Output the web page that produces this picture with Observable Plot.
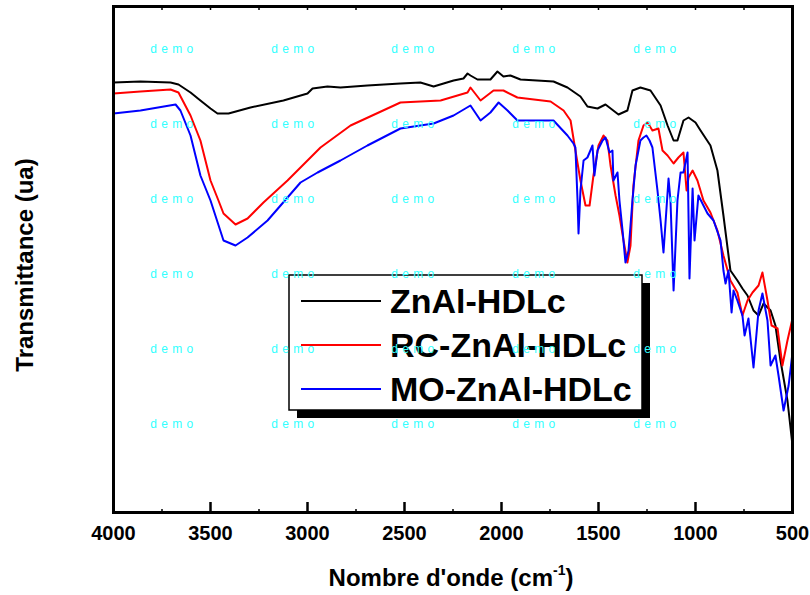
<!DOCTYPE html>
<html><head><meta charset="utf-8">
<script src="https://cdn.jsdelivr.net/npm/d3@7"></script>
<script src="https://cdn.jsdelivr.net/npm/@observablehq/plot@0.6"></script>
<style>
body{margin:0;background:#fff}
svg{font-family:"Liberation Sans",Arial,Helvetica,sans-serif}
</style>
</head><body><div id="chart"></div>
<script>
// ---- data (wavenumber cm-1, transmittance a.u.) ----
const seriesNames = ["ZnAl-HDLc", "RC-ZnAl-HDLc", "MO-ZnAl-HDLc"];
const seriesColors = ["#000000", "#ff0000", "#0000ff"];
const xTicks = [4000, 3500, 3000, 2500, 2000, 1500, 1000, 500];
const xLabel = "Nombre d'onde (cm";
const yLabel = "Transmittance (ua)";

const znalHDLc = [
 [4000,430],[3861,431],[3706,430],[3665,428],[3603,420],[3552,412],[3500,404],[3464,399],[3407,399],
 [3294,405],[3124,412],[3000,419],[2974,424],[2897,426],[2830,425],[2691,427],[2521,429],[2418,430],
 [2350,426],[2247,432],[2196,434],[2175,439],[2160,437],[2124,433],[2057,433],[2021,441],[1990,436],
 [1954,437],[1902,433],[1732,431],[1660,425],[1593,416],[1557,406],[1505,404],[1464,408],[1397,398],
 [1351,402],[1325,422],[1284,425],[1232,422],[1180,407],[1144,387],[1113,372],[1093,372],[1062,392],
 [1036,395],[1000,390],[974,382],[923,367],[887,342],[856,297],[820,242],[784,232],[758,224],[732,217],
 [701,202],[675,197],[649,209],[613,202],[588,187],[562,152],[526,112],[500,67]
];
const rcZnalHDLc = [
 [4000,419],[3861,421],[3706,423],[3665,420],[3603,397],[3552,372],[3500,332],[3459,312],[3433,299],
 [3371,288],[3309,294],[3227,310],[3103,332],[2933,365],[2778,387],[2521,410],[2314,412],[2175,420],
 [2160,425],[2108,412],[2041,422],[1990,422],[1918,415],[1747,411],[1680,402],[1644,392],[1619,362],
 [1593,332],[1567,307],[1546,307],[1526,337],[1500,367],[1474,377],[1454,372],[1438,347],[1412,317],
 [1392,297],[1371,272],[1351,250],[1335,267],[1320,327],[1294,372],[1268,387],[1247,390],[1222,382],
 [1191,384],[1170,362],[1144,357],[1113,349],[1088,355],[1062,360],[1046,322],[1036,335],[1015,342],
 [990,332],[959,312],[923,300],[887,282],[856,257],[820,232],[784,220],[758,197],[732,212],[706,220],
 [675,227],[655,240],[629,212],[608,187],[577,184],[552,147],[526,172],[500,194]
];
const moZnalHDLc = [
 [4000,399],[3861,402],[3680,408],[3655,402],[3603,377],[3552,337],[3500,312],[3433,272],[3371,267],
 [3309,275],[3206,292],[3103,315],[3036,330],[2948,340],[2830,352],[2691,367],[2521,384],[2350,389],
 [2247,397],[2160,407],[2108,392],[2057,400],[2015,410],[1969,402],[1918,392],[1732,392],[1660,377],
 [1629,369],[1619,365],[1608,312],[1603,279],[1593,322],[1577,352],[1557,355],[1531,367],[1521,337],
 [1505,362],[1479,372],[1464,375],[1443,360],[1428,362],[1423,332],[1402,340],[1392,312],[1376,282],
 [1361,250],[1345,262],[1325,312],[1309,347],[1284,372],[1268,375],[1253,377],[1237,372],[1222,365],
 [1196,322],[1180,292],[1165,260],[1139,334],[1129,312],[1113,222],[1093,312],[1077,340],[1062,340],
 [1041,360],[1031,234],[1015,324],[1005,272],[985,317],[959,307],[938,299],[907,292],[871,272],
 [856,242],[845,229],[830,242],[814,200],[804,222],[784,212],[758,197],[747,177],[727,194],[701,145],
 [675,202],[655,219],[629,192],[613,147],[588,157],[572,137],[546,102],[520,127],[500,160]
];

const allSeries = [znalHDLc, rcZnalHDLc, moZnalHDLc];
const data = allSeries.flatMap((s, i) => s.map(([wn, t]) => ({wn, t, series: seriesNames[i]})));
const minorBottom = d3.range(3750, 500, -500);
const topTicks = d3.range(3750, 500, -250);

const plot = Plot.plot({
  width: 810, height: 595,
  marginLeft: 113, marginRight: 18, marginTop: 6, marginBottom: 83,
  style: {background: "white", fontFamily: '"Liberation Sans",Arial,sans-serif'},
  x: {domain: [4000, 500]},
  y: {domain: [0, 506], axis: null},
  color: {domain: seriesNames, range: seriesColors},
  marks: [
    Plot.line(data, {x: "wn", y: "t", z: "series", stroke: "series", strokeWidth: 2}),
    Plot.ruleX(xTicks.slice(1, -1), {y1: 0, y2: 10, stroke: "black", strokeWidth: 2.5}),
    Plot.ruleX(minorBottom, {y1: 0, y2: 3, stroke: "black", strokeWidth: 1.5}),
    Plot.ruleX(topTicks, {y1: 506, y2: 502, stroke: "black", strokeWidth: 1.5}),
    Plot.frame({stroke: "black", strokeWidth: 3}),
    Plot.axisX({ticks: xTicks, tickSize: 0, tickPadding: 13, fontSize: 20, fontWeight: "bold",
                tickFormat: d => String(d), label: null, fill: "black"})
  ]
});

const svg = d3.select(plot);

// axis titles
const xt = svg.append("text").attr("x", 451).attr("y", 586).attr("text-anchor", "middle")
  .attr("font-size", 24).attr("font-weight", "bold").attr("fill", "black");
xt.append("tspan").text(xLabel);
xt.append("tspan").attr("font-size", 14).attr("dy", -11).text("-1");
xt.append("tspan").attr("dy", 11).text(")");

svg.append("text").attr("transform", "translate(33,265) rotate(-90)").attr("text-anchor", "middle")
  .attr("font-size", 24).attr("font-weight", "bold").attr("fill", "black").text(yLabel);

// legend
const lg = svg.append("g").attr("text-anchor", "start");
lg.append("rect").attr("x", 297).attr("y", 283).attr("width", 353).attr("height", 135).attr("fill", "black");
lg.append("rect").attr("x", 289).attr("y", 275).attr("width", 353).attr("height", 135)
  .attr("fill", "white").attr("stroke", "black").attr("stroke-width", 1.5);
seriesNames.forEach((name, i) => {
  const cy = 301 + i * 44;
  lg.append("line").attr("x1", 301).attr("x2", 381).attr("y1", cy).attr("y2", cy)
    .attr("stroke", seriesColors[i]).attr("stroke-width", 2);
  lg.append("text").attr("x", 390).attr("y", cy + 12).attr("font-size", 34).attr("font-weight", "bold")
    .attr("text-anchor", "start").attr("fill", "black").text(name);
});

// watermark
const wm = svg.append("g").attr("fill", "#33ffff").attr("font-size", 12).attr("text-anchor", "middle");
[172, 293, 413, 534, 655].forEach(cx => {
  [49, 124, 199, 274, 349, 424].forEach(cy => {
    wm.append("text").attr("x", cx).attr("y", cy + 4).attr("letter-spacing", 0.5).text("d e m o");
  });
});

document.getElementById("chart").appendChild(plot);
</script>
</body></html>
